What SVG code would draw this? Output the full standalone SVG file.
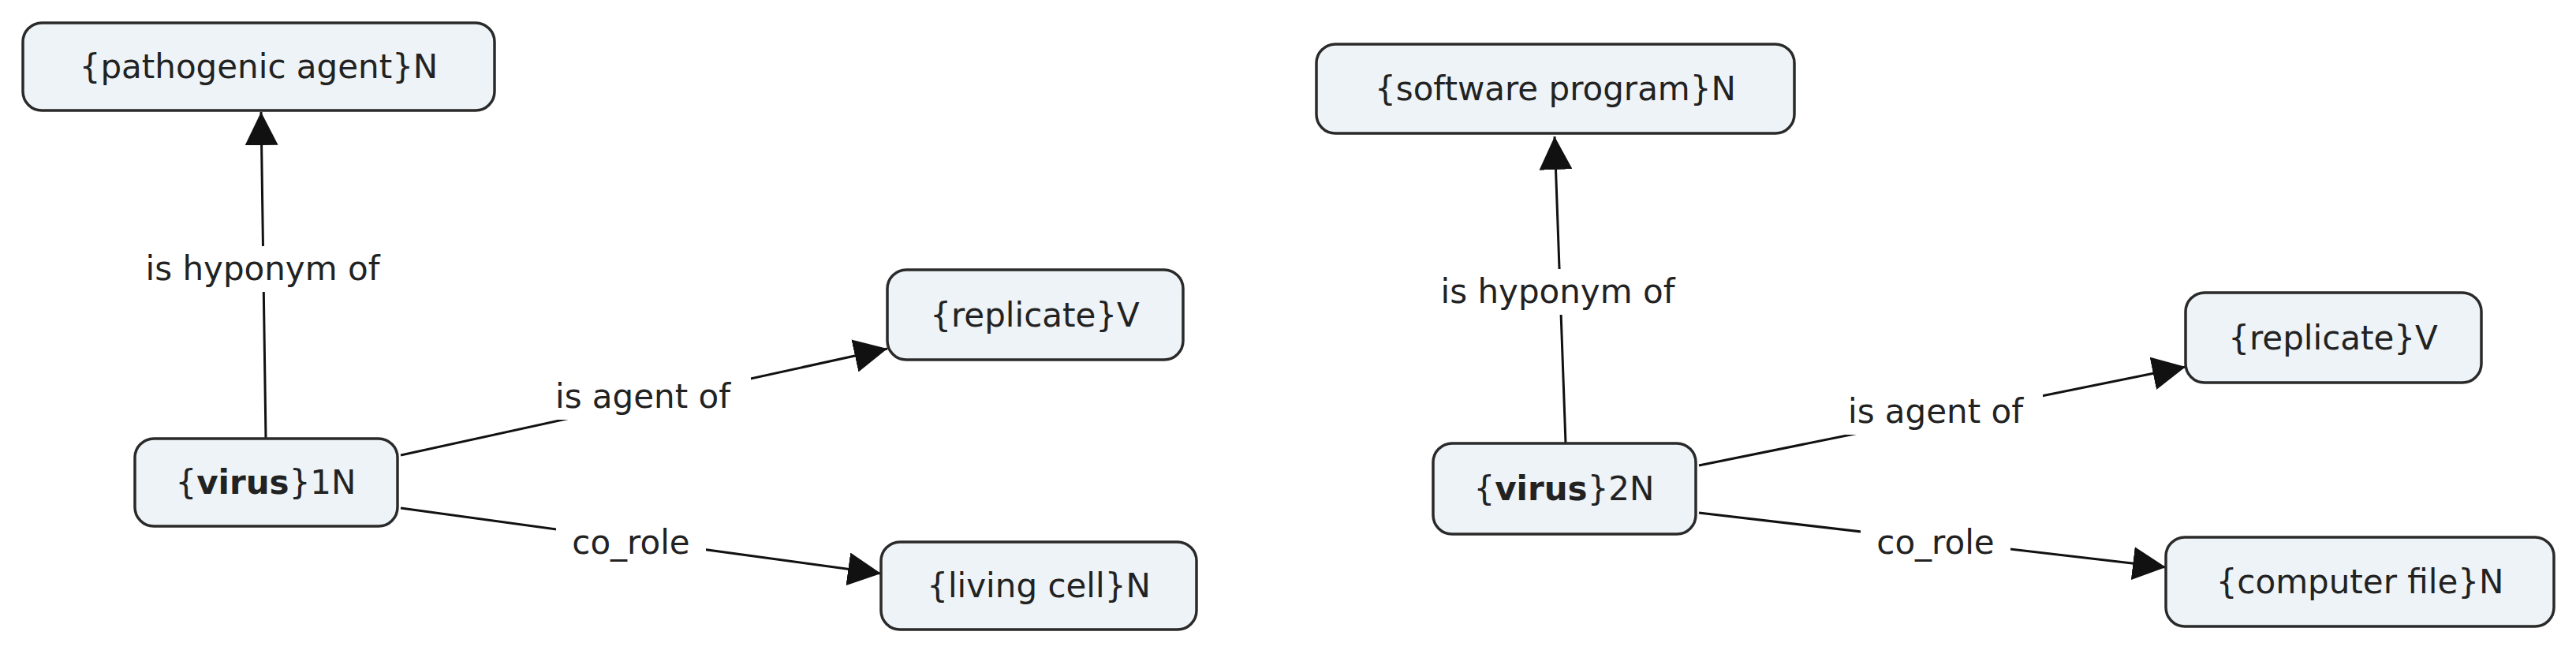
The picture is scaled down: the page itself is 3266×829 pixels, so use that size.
<svg xmlns="http://www.w3.org/2000/svg" width="3266" height="829" viewBox="0 0 3266 829">
<style>
.n rect{fill:#edf3f6;stroke:#2a2a2a;stroke-width:3.5}
text{font-family:"DejaVu Sans","Liberation Sans",sans-serif;font-size:42px;fill:#222;text-anchor:middle;dominant-baseline:central}
.c line{stroke:#111;stroke-width:3.5}
.lb{fill:#fff}
</style>
<defs><marker id="a" viewBox="0 0 10 10" refX="10" refY="5" markerWidth="14" markerHeight="14" markerUnits="userSpaceOnUse" orient="auto"><path d="M0,0L10,5L0,10z" fill="#111"/></marker></defs>
<defs><marker id="b" viewBox="0 0 10 10" refX="10" refY="5" markerWidth="14" markerHeight="14" orient="auto"><path d="M0,0L10,5L0,10z" fill="#111"/></marker></defs>
<g class="c">
<line x1="337" y1="556" x2="331" y2="142" marker-end="url(#b)" style="stroke-width:3"/>
<line x1="508" y1="577" x2="1125" y2="442" marker-end="url(#b)" style="stroke-width:3"/>
<line x1="508" y1="644" x2="1117" y2="727" marker-end="url(#b)" style="stroke-width:3"/>
<line x1="1985" y1="562" x2="1971" y2="173" marker-end="url(#b)" style="stroke-width:3"/>
<line x1="2154" y1="590" x2="2771" y2="465" marker-end="url(#b)" style="stroke-width:3"/>
<line x1="2154" y1="650" x2="2746" y2="719" marker-end="url(#b)" style="stroke-width:3"/>
<rect class="lb" x="150" y="312" width="366" height="58"/>
<text x="333" y="340">is hyponym of</text>
<rect class="lb" x="680" y="474" width="272" height="58"/>
<text x="815" y="502">is agent of</text>
<rect class="lb" x="705" y="660" width="190" height="58"/>
<text x="800" y="687">co_role</text>
<rect class="lb" x="1792" y="341" width="366" height="58"/>
<text x="1975" y="369">is hyponym of</text>
<rect class="lb" x="2318" y="493" width="272" height="58"/>
<text x="2454" y="521">is agent of</text>
<rect class="lb" x="2359" y="660" width="190" height="58"/>
<text x="2454" y="687">co_role</text>
</g>
<g id="n1" class="n"><rect x="29" y="29" width="598" height="111" rx="24"/><text x="328" y="84">{pathogenic agent}N</text></g>
<g id="n2" class="n"><rect x="1125" y="342" width="375" height="114" rx="24"/><text x="1312" y="399">{replicate}V</text></g>
<g id="n3" class="n"><rect x="171" y="556" width="333" height="111" rx="24"/><text x="337" y="611">{<tspan font-weight="bold">virus</tspan>}1N</text></g>
<g id="n4" class="n"><rect x="1117" y="687" width="400" height="111" rx="24"/><text x="1317" y="742">{living cell}N</text></g>
<g id="n5" class="n"><rect x="1669" y="56" width="606" height="113" rx="24"/><text x="1972" y="112">{software program}N</text></g>
<g id="n6" class="n"><rect x="2771" y="371" width="375" height="114" rx="24"/><text x="2958" y="428">{replicate}V</text></g>
<g id="n7" class="n"><rect x="1817" y="562" width="333" height="115" rx="24"/><text x="1983" y="619">{<tspan font-weight="bold">virus</tspan>}2N</text></g>
<g id="n8" class="n"><rect x="2746" y="681" width="492" height="113" rx="24"/><text x="2992" y="737">{computer file}N</text></g>
</svg>
